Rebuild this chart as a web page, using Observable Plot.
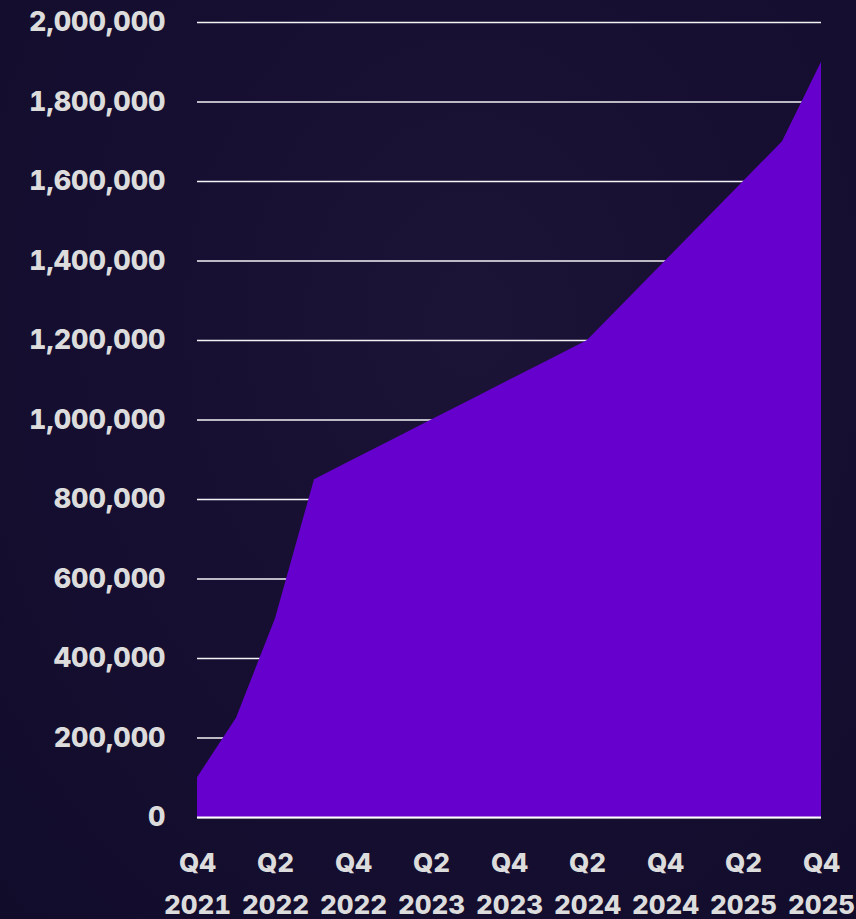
<!DOCTYPE html>
<html>
<head>
<meta charset="utf-8">
<script src="https://cdn.jsdelivr.net/npm/d3@7"></script>
<script src="https://cdn.jsdelivr.net/npm/@observablehq/plot@0.6"></script>
<style>
  html, body { margin: 0; padding: 0; }
  body {
    width: 856px; height: 919px; overflow: hidden;
    background: radial-gradient(ellipse at 55% 35%, #1c1437 0%, #160f32 45%, #120c2b 100%);
  }
  #chart svg { display: block; background: transparent; }
  #chart svg text { font-family: "Inter", "Open Sans", sans-serif !important; font-weight: 800; }
</style>
</head>
<body>
<div id="chart"></div>
<script>
const quarters = ["Q4 2021","Q1 2022","Q2 2022","Q3 2022","Q4 2022","Q1 2023","Q2 2023","Q3 2023","Q4 2023","Q1 2024","Q2 2024","Q3 2024","Q4 2024","Q1 2025","Q2 2025","Q3 2025","Q4 2025"];
const values = [100000, 250000, 500000, 850000, 900000, 950000, 1000000, 1050000, 1100000, 1150000, 1200000, 1300000, 1400000, 1500000, 1600000, 1700000, 1900000];
const yTicks = [0, 200000, 400000, 600000, 800000, 1000000, 1200000, 1400000, 1600000, 1800000, 2000000];
const xTickIdx = [0, 2, 4, 6, 8, 10, 12, 14, 16];

const data = quarters.map((q, i) => ({i, q, v: values[i]}));

const chart = Plot.plot({
  width: 856,
  height: 919,
  marginLeft: 197,
  marginRight: 35,
  marginTop: 22,
  marginBottom: 102,
  style: {background: "transparent", fontFamily: "Inter, 'Open Sans', sans-serif"},
  x: {type: "linear", domain: [0, quarters.length - 1]},
  y: {domain: [0, 2000000]},
  marks: [
    Plot.gridY(yTicks, {stroke: "#ffffff", strokeOpacity: 0.95, strokeWidth: 1.6}),
    Plot.areaY(data, {x: "i", y: "v", fill: "#6600cc", curve: "linear"}),
    Plot.ruleY([0], {stroke: "#ffffff", strokeWidth: 2}),
    Plot.axisY(yTicks, {
      tickSize: 0, tickPadding: 32, tickFormat: d3.format(","),
      fontSize: 27, fontWeight: 800, fill: "#dcdcdc", label: null,
      letterSpacing: "1.8px"
    }),
    Plot.axisX(xTickIdx, {
      tickSize: 0, tickPadding: 25,
      tickFormat: i => quarters[i].replace(" ", "\n"),
      lineHeight: 1.6,
      fontSize: 26, fontWeight: 800, fill: "#dcdcdc", label: null
    })
  ]
});
document.getElementById("chart").append(chart);
</script>
</body>
</html>
